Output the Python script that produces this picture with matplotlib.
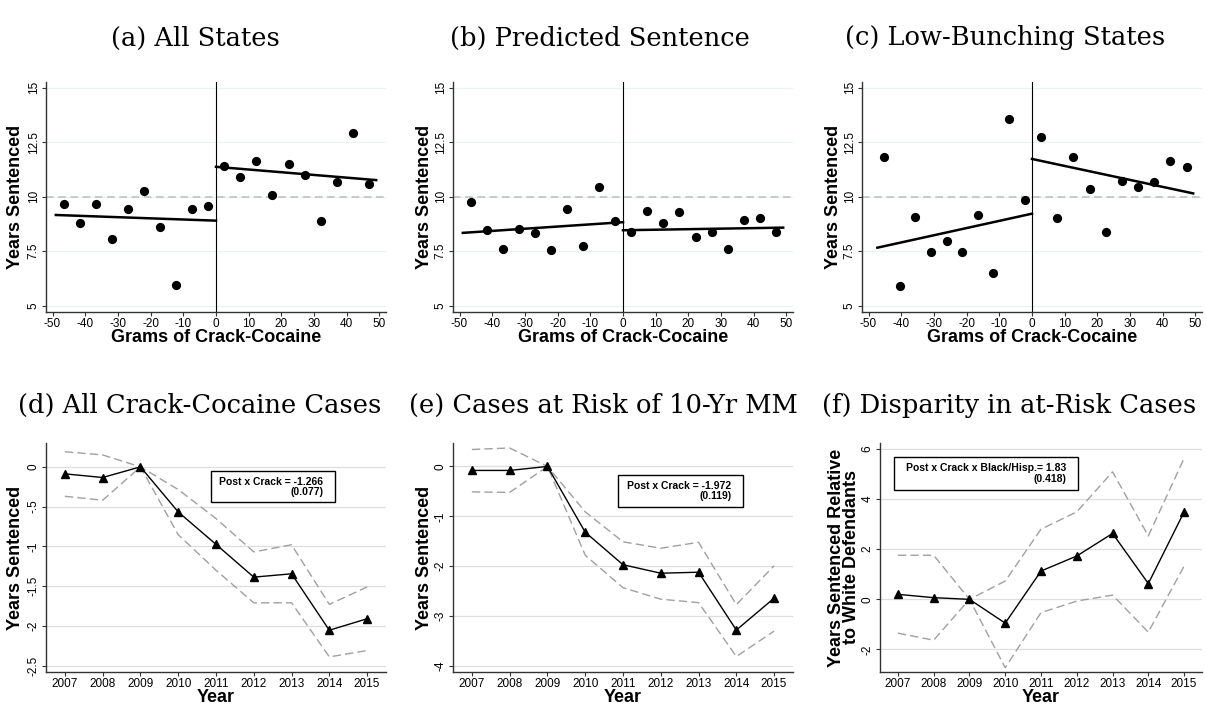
import numpy as np
import matplotlib
matplotlib.use("Agg")
import matplotlib.pyplot as plt

plt.rcParams["axes.unicode_minus"] = False

W, H = 1207, 711

# ---- top row: binned scatter around the 28g threshold ----
xa_left = [-46.6, -41.7, -36.8, -31.8, -27.0, -22.1, -17.1, -12.2, -7.3, -2.4]
xa_right = [2.4, 7.3, 12.3, 17.2, 22.2, 27.1, 32.1, 37.0, 41.9, 46.8]
ya_left = [9.66, 8.81, 9.66, 8.08, 9.42, 10.24, 8.63, 5.96, 9.45, 9.59]
ya_right = [11.42, 10.91, 11.65, 10.08, 11.51, 10.99, 8.90, 10.66, 12.93, 10.59]
fita_left = ([-49, 0], [9.16, 8.90])
fita_right = ([0, 49], [11.37, 10.76])

yb_left = [9.74, 8.46, 7.62, 8.51, 8.32, 7.55, 9.42, 7.73, 10.46, 8.89]
yb_right = [8.38, 9.34, 8.80, 9.31, 8.16, 8.38, 7.62, 8.92, 9.02, 8.37]
fitb_left = ([-49, 0], [8.34, 8.83])
fitb_right = ([0, 49], [8.46, 8.58])

xc_left = [-45.2, -40.5, -35.7, -30.8, -26.1, -21.3, -16.5, -11.8, -7.0, -2.2]
xc_right = [2.7, 7.6, 12.6, 17.6, 22.5, 27.5, 32.4, 37.4, 42.3, 47.3]
yc_left = [11.83, 5.91, 9.07, 7.48, 7.95, 7.44, 9.16, 6.52, 13.54, 9.83]
yc_right = [12.73, 9.02, 11.83, 10.34, 8.37, 10.70, 10.44, 10.67, 11.65, 11.37]
fitc_left = ([-47.3, 0], [7.66, 9.22])
fitc_right = ([0, 49.3], [11.73, 10.15])

# ---- bottom row: event-study coefficients ----
years = [2007, 2008, 2009, 2010, 2011, 2012, 2013, 2014, 2015]
d_coef = [-0.088, -0.134, 0.0, -0.567, -0.975, -1.387, -1.345, -2.055, -1.91]
d_hi = [0.19, 0.15, 0.0, -0.286, -0.65, -1.07, -0.98, -1.73, -1.51]
d_lo = [-0.37, -0.42, 0.0, -0.853, -1.30, -1.71, -1.71, -2.39, -2.31]

e_coef = [-0.08, -0.08, 0.0, -1.318, -1.97, -2.14, -2.12, -3.28, -2.64]
e_hi = [0.34, 0.37, 0.0, -0.91, -1.51, -1.64, -1.52, -2.77, -1.99]
e_lo = [-0.51, -0.52, 0.0, -1.78, -2.43, -2.66, -2.73, -3.81, -3.30]

f_coef = [0.2, 0.067, 0.0, -0.95, 1.13, 1.73, 2.63, 0.63, 3.49]
f_hi = [1.76, 1.76, 0.0, 0.73, 2.8, 3.49, 5.09, 2.53, 5.63]
f_lo = [-1.35, -1.63, 0.0, -2.73, -0.53, -0.07, 0.17, -1.31, 1.33]

titles = ["(a) All States", "(b) Predicted Sentence", "(c) Low-Bunching States",
          "(d) All Crack-Cocaine Cases", "(e) Cases at Risk of 10-Yr MM",
          "(f) Disparity in at-Risk Cases"]

SANS = "Liberation Sans"
GRID_TOP = "#eaf2f3"
GRID_BOT = "#dedede"

fig = plt.figure(figsize=(W / 100, H / 100), dpi=100)


def px_axes(l, r, t, b):
    return fig.add_axes([l / W, 1 - b / H, (r - l) / W, (b - t) / H])


def style(ax, grid_color):
    for s in ["top", "right"]:
        ax.spines[s].set_visible(False)
    for s in ["left", "bottom"]:
        ax.spines[s].set_linewidth(1.0)
        ax.spines[s].set_color("#333333")
    ax.tick_params(direction="out", length=3, width=0.8, labelsize=8.5, pad=1.5,
                   colors="#333333", labelcolor="black")
    for lab in ax.get_xticklabels() + ax.get_yticklabels():
        lab.set_family(SANS)
    ax.grid(axis="y", color=grid_color, lw=0.9, zorder=0)
    ax.set_axisbelow(True)


def rd_panel(ax, xl, xr, yl, yr, fl, fr, lab_x):
    ax.set_xlim(-52, 52)
    ax.set_ylim(4.71, 15.26)
    ax.set_yticks([5, 7.5, 10, 12.5, 15])
    ax.set_yticklabels(["5", "7.5", "10", "12.5", "15"], rotation=90, va="center")
    ax.set_xticks(np.arange(-50, 51, 10))
    style(ax, GRID_TOP)
    ax.axhline(10, color="#bdbdbd", lw=1.1, ls=(0, (5, 3)), zorder=1)
    ax.axvline(0, color="black", lw=0.8, zorder=2)
    ax.scatter(xl + xr, yl + yr, s=44, color="black", zorder=4, linewidths=0)
    ax.plot(*fl, color="black", lw=1.8, zorder=3)
    ax.plot(*fr, color="black", lw=1.8, zorder=3)
    ax.set_ylabel("Years Sentenced", family=SANS, fontweight="bold", fontsize=13)
    ax.yaxis.set_label_coords(lab_x, 0.5)
    ax.set_xlabel("Grams of Crack-Cocaine", family=SANS, fontweight="bold",
                  fontsize=13, labelpad=-1)


def es_panel(ax, coef, hi, lo, ylim, yticks, yticklabels, ylabel, lab_x, box, txt):
    ax.set_xlim(2006.5, 2015.5)
    ax.set_ylim(*ylim)
    ax.set_xticks(years)
    ax.set_yticks(yticks)
    ax.set_yticklabels(yticklabels, rotation=90, va="center")
    style(ax, GRID_BOT)
    ax.plot(years, hi, color="#a0a0a0", lw=1.0, ls=(0, (6, 3)), zorder=2)
    ax.plot(years, lo, color="#a0a0a0", lw=1.0, ls=(0, (6, 3)), zorder=2)
    ax.plot(years, coef, color="black", lw=1.0, marker="^", ms=5.5, zorder=3)
    ax.set_ylabel(ylabel, family=SANS, fontweight="bold", fontsize=13,
                  linespacing=0.85)
    ax.yaxis.set_label_coords(lab_x, 0.5)
    ax.set_xlabel("Year", family=SANS, fontweight="bold", fontsize=13, labelpad=-1)
    x0, x1, y0, y1 = box
    ax.add_patch(plt.Rectangle((x0, y0), x1 - x0, y1 - y0, fill=True,
                               facecolor="white", edgecolor="black", lw=1.0,
                               zorder=5))
    # text sits ~12px in from the right edge of the box
    ax.annotate(txt, xy=(x1, (y0 + y1) / 2), xytext=(-8.5, 0),
                textcoords="offset points", ha="right", va="center",
                family=SANS, fontweight="bold", fontsize=7.5,
                linespacing=1.05, zorder=6)


ax_a = px_axes(46, 386, 82, 312)
rd_panel(ax_a, xa_left, xa_right, ya_left, ya_right, fita_left, fita_right, -0.065)
ax_b = px_axes(453, 793, 82, 312)
rd_panel(ax_b, xa_left, xa_right, yb_left, yb_right, fitb_left, fitb_right, -0.059)
ax_c = px_axes(862, 1202, 82, 312)
rd_panel(ax_c, xc_left, xc_right, yc_left, yc_right, fitc_left, fitc_right, -0.059)

ax_d = px_axes(46, 386, 443, 672)
es_panel(ax_d, d_coef, d_hi, d_lo, (-2.58, 0.30), [0, -0.5, -1, -1.5, -2, -2.5],
         ["0", "-.5", "-1", "-1.5", "-2", "-2.5"], "Years Sentenced", -0.065,
         (2010.86, 2014.15, -0.445, -0.055),
         "Post x Crack = -1.266\n(0.077)")
ax_e = px_axes(453, 793, 443, 672)
es_panel(ax_e, e_coef, e_hi, e_lo, (-4.12, 0.47), [0, -1, -2, -3, -4],
         ["0", "-1", "-2", "-3", "-4"], "Years Sentenced", -0.059,
         (2010.86, 2014.18, -0.81, -0.18),
         "Post x Crack = -1.972\n(0.119)")
ax_f = px_axes(880, 1202, 443, 672)
es_panel(ax_f, f_coef, f_hi, f_lo, (-2.9, 6.24), [-2, 0, 2, 4, 6],
         ["-2", "0", "2", "4", "6"],
         "Years Sentenced Relative\nto White Defendants", -0.062,
         (2006.88, 2012.04, 4.37, 5.67),
         "Post x Crack x Black/Hisp.= 1.83\n(0.418)")

title_pos = [(195, 38), (600, 38), (1005, 38), (200, 405), (603, 405), (1009, 405)]
for t, (x, y) in zip(titles, title_pos):
    fig.text(x / W, 1 - y / H, t, ha="center", va="center",
             family="DejaVu Serif", fontsize=18.5)

fig.savefig("out.png", dpi=100)
